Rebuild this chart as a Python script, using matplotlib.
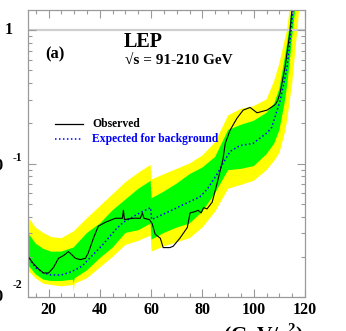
import numpy as np
import matplotlib
matplotlib.use('Agg')
import matplotlib.pyplot as plt
from matplotlib.lines import Line2D
from matplotlib.ticker import FixedLocator, NullFormatter

# Observed (black) curve: Higgs mass (GeV) and log10 of the confidence level
obs_mass = [12.2, 14.1, 16.1, 18.0, 20.0, 21.9, 23.9, 25.8, 27.8, 28.9, 30.5, 32.4, 34.4, 35.5,
            37.5, 39.4, 42.2, 46.1, 48.8, 49.2, 49.6, 53.1, 55.8, 56.6, 57.2, 59.3, 60.4, 61.6,
            63.6, 64.7, 67.3, 68.6, 71.2, 74.1, 75.2, 77.2, 78.3, 79.5, 80.5, 81.8, 83.0, 83.8,
            85.7, 88.0, 88.9, 90.8, 93.5, 95.9, 98.6, 101.3, 105.2, 108.3, 109.3, 110.3, 112.2,
            114.1, 114.9, 115.5]
obs_log = [-1.70, -1.75, -1.79, -1.82, -1.82, -1.78, -1.71, -1.69, -1.66, -1.68, -1.71, -1.72,
           -1.71, -1.67, -1.56, -1.47, -1.44, -1.41, -1.41, -1.35, -1.42, -1.41, -1.41, -1.37,
           -1.41, -1.42, -1.45, -1.53, -1.56, -1.63, -1.63, -1.62, -1.56, -1.48, -1.37, -1.36,
           -1.35, -1.37, -1.33, -1.34, -1.31, -1.29, -1.15, -0.97, -0.85, -0.75, -0.66, -0.60,
           -0.58, -0.62, -0.60, -0.56, -0.53, -0.47, -0.28, -0.02, 0.15, 0.30]

# Expected for background (blue dotted)
exp_mass = [12.2, 15, 18, 21, 25, 29, 33, 37, 40.6, 46.4, 49.2, 54.6, 59.8, 60.2, 64.7, 70.2,
            74.5, 79, 82, 85.7, 88, 90.8, 94.7, 99.7, 105.2, 107, 110.3, 113, 114.5, 115.3, 116]
exp_log = [-1.71, -1.78, -1.82, -1.835, -1.835, -1.81, -1.77, -1.69, -1.62, -1.49, -1.44, -1.38,
           -1.33, -1.42, -1.38, -1.33, -1.29, -1.25, -1.19, -1.08, -1.00, -0.91, -0.865, -0.85,
           -0.77, -0.73, -0.53, -0.28, -0.02, 0.15, 0.30]

# 1 and 2 sigma bands (log10 of the edges)
band_mass = [12, 15, 18, 21, 25, 29.6, 29.8, 30.2, 35, 40, 45, 50, 55, 59.8, 60.2, 65, 70, 75,
             80, 85, 90, 95, 100, 105, 108, 110, 112, 113, 114, 115, 116, 117, 118, 119]
y2_up = [-1.40, -1.48, -1.52, -1.55, -1.56, -1.51, -1.51, -1.50, -1.41, -1.32, -1.23, -1.14,
         -1.07, -1.01, -1.12, -1.08, -1.04, -1.00, -0.94, -0.84, -0.64, -0.59, -0.57, -0.52,
         -0.38, -0.25, -0.08, 0.00, 0.15, 0.35, 0.60, 0.85, 1.10, 1.30]
y1_up = [-1.52, -1.60, -1.64, -1.66, -1.66, -1.63, -1.63, -1.62, -1.52, -1.45, -1.35, -1.27,
         -1.19, -1.13, -1.26, -1.21, -1.15, -1.08, -1.03, -0.95, -0.75, -0.71, -0.68, -0.62,
         -0.55, -0.44, -0.22, -0.10, 0.03, 0.20, 0.40, 0.60, 0.80, 1.00]
y1_lo = [-1.76, -1.83, -1.87, -1.88, -1.88, -1.87, -1.90, -1.86, -1.80, -1.71, -1.63, -1.52,
         -1.50, -1.45, -1.57, -1.52, -1.48, -1.45, -1.36, -1.22, -1.05, -1.04, -1.02, -0.93,
         -0.85, -0.75, -0.55, -0.42, -0.25, -0.05, 0.12, 0.30, 0.50, 0.70]
y2_lo = [-1.80, -1.86, -1.90, -1.91, -1.92, -1.91, -1.97, -1.90, -1.86, -1.78, -1.70, -1.61,
         -1.58, -1.54, -1.66, -1.62, -1.59, -1.56, -1.48, -1.36, -1.19, -1.16, -1.13, -1.05,
         -0.98, -0.92, -0.78, -0.68, -0.54, -0.40, -0.20, 0.00, 0.20, 0.45]

x_ticks = [20, 40, 60, 80, 100, 120]

W, H = 346, 331
SERIF = ['Liberation Serif', 'DejaVu Serif']
plt.rcParams['font.family'] = SERIF
plt.rcParams['font.weight'] = 'bold'
plt.rcParams['mathtext.fontset'] = 'custom'
plt.rcParams['mathtext.rm'] = 'Liberation Serif:bold'
plt.rcParams['mathtext.bf'] = 'Liberation Serif:bold'


def fx(px):
    return px / W


def fy(py):
    return 1 - py / H


def tolin(vals):
    return 10 ** np.asarray(vals, dtype=float)


fig = plt.figure(figsize=(W / 100, H / 100), dpi=100)
ax = fig.add_axes([fx(28), fy(297), fx(305) - fx(28), fy(10) - fy(297)])

ax.fill_between(band_mass, tolin(y2_lo), tolin(y2_up), color='#ffff00', lw=0)
ax.fill_between(band_mass, tolin(y1_lo), tolin(y1_up), color='#00ff00', lw=0)
ax.axhline(1, color='#cfcfcf', lw=1.6, zorder=1)
ax.plot(exp_mass, tolin(exp_log), color='#0000ff', lw=1.1, ls=(0, (1, 1.6)))
ax.plot(obs_mass, tolin(obs_log), color='black', lw=0.8)

ax.set_yscale('log')
ax.set_xlim(12, 120)
ax.set_ylim(10 ** -2.0, 10 ** 0.15)

# axis styling
frame = '#9a9a9a'
for s in ax.spines.values():
    s.set_color(frame)
    s.set_linewidth(0.9)
ax.xaxis.set_major_locator(FixedLocator(x_ticks))
ax.xaxis.set_minor_locator(FixedLocator([v for v in range(15, 120, 5) if v % 20]))
ax.yaxis.set_major_locator(FixedLocator([0.01, 0.1, 1]))
ax.yaxis.set_minor_locator(FixedLocator([m * d for d in (0.01, 0.1, 1) for m in range(2, 10)]))
ax.yaxis.set_major_formatter(NullFormatter())
ax.yaxis.set_minor_formatter(NullFormatter())
ax.tick_params(which='both', direction='in', top=True, right=True, color=frame, width=0.8)
ax.tick_params(which='major', length=6)
ax.tick_params(which='minor', length=3)
ax.tick_params(axis='x', which='major', labelsize=11.5, pad=3.5)
for lab in ax.get_xticklabels():
    lab.set_fontweight('bold')

# y tick labels drawn by hand (ROOT style 10 and raised exponent)
fig.text(fx(12.5), fy(30), '1', ha='right', va='center', fontsize=11.5, fontweight='bold')
fig.text(fx(3.5), fy(166), '10', ha='right', va='center', fontsize=11.5, fontweight='bold')
fig.text(fx(12.5), fy(158), '-1', ha='left', va='center', fontsize=8.5, fontweight='bold')
fig.text(fx(3.5), fy(297), '10', ha='right', va='center', fontsize=11.5, fontweight='bold')
fig.text(fx(12.5), fy(285), '-2', ha='left', va='center', fontsize=8.5, fontweight='bold')

# x axis title (cut by the figure edge)
fig.text(fx(223), fy(341), '(GeV/c$^{2}$)', ha='left', va='baseline', fontsize=15.5,
         fontweight='bold')

# labels in the frame
fig.text(fx(124), fy(47), 'LEP', ha='left', va='baseline', fontsize=14.5, fontweight='bold')
fig.text(fx(125), fy(64), '\u221as = 91-210 GeV', ha='left', va='baseline', fontsize=11,
         fontweight='bold')
fig.text(fx(45), fy(58), '(a)', ha='left', va='baseline', fontsize=12, fontweight='bold')

# legend
fig.add_artist(Line2D([fx(55), fx(83)], [fy(124), fy(124)], color='black', lw=0.9))
fig.add_artist(Line2D([fx(55), fx(82)], [fy(139), fy(139)], color='#0000ff', lw=1.1,
                      ls=(0, (1, 1.6))))
fig.text(fx(92), fy(124), 'Observed', ha='left', va='center', fontsize=8.4, fontweight='bold')
fig.text(fx(92), fy(139), 'Expected for background', ha='left', va='center', fontsize=8.4,
         fontweight='bold', color='#0000ff')

plt.savefig('out.png', dpi=100)
